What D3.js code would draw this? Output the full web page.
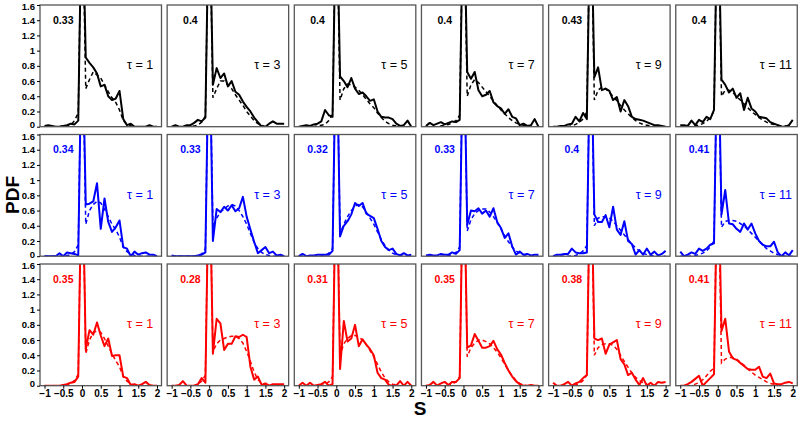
<!DOCTYPE html>
<html><head><meta charset="utf-8">
<script src="https://cdn.jsdelivr.net/npm/d3@7"></script>
<style>body{margin:0;background:#fff}svg{display:block}</style>
</head><body><svg id="c" width="800" height="421"></svg>
<script>
// S grid (bin positions)
const S = [-1.0,-0.9,-0.8,-0.7,-0.6,-0.5,-0.4,-0.3,-0.2,-0.1,0,0.1,0.2,0.3,0.4,0.5,0.6,0.7,0.8,0.9,1.0,1.1,1.2,1.3,1.4,1.5,1.6,1.7,1.8,1.9,2.0];
const taus = [1,3,5,7,9,11];
const rowColors = ["#000000","#0000ff","#ff0000"];
const xTicks = [-1,-0.5,0,0.5,1,1.5,2];
const yTicks = [0,0.2,0.4,0.6,0.8,1,1.2,1.4,1.6];

const fracBlack = ["0.33","0.4","0.4","0.4","0.43","0.4"];
const fracBlue  = ["0.34","0.33","0.32","0.33","0.4","0.41"];
const fracRed   = ["0.35","0.28","0.31","0.35","0.38","0.41"];

const solidBlack = [
 [0.01,0.02,0.01,0,0,0.01,0.02,0.04,0.03,0.08,3.2,0.91,0.84,0.78,0.70,0.53,0.55,0.40,0.35,0.37,0.47,0.10,0.02,0.04,0,0,0,0,0.02,0,0],
 [0,0.02,0,0,0.02,0.02,0.05,0.09,0.07,0.12,3.2,0.55,0.77,0.64,0.7,0.53,0.6,0.46,0.42,0.33,0.26,0.2,0.12,0.06,0,0,0.04,0.07,0.04,0.04,0.04],
 [0,0.01,0.02,0.01,0.03,0.04,0.07,0.22,0.15,0.13,3.2,0.66,0.6,0.52,0.64,0.5,0.43,0.45,0.4,0.34,0.36,0.2,0.13,0.12,0.12,0.1,0.04,0.01,0.02,0.08,0],
 [0.01,0.05,0.02,0.04,0.06,0.03,0.05,0.07,0.06,0.09,3.2,0.72,0.63,0.72,0.48,0.4,0.42,0.47,0.32,0.27,0.24,0.17,0.23,0.13,0.11,0.02,0.04,0.01,0.02,0.1,0],
 [0,0,0.01,0.01,0.03,0.04,0.13,0.07,0.18,0.1,3.2,0.65,0.78,0.48,0.5,0.47,0.35,0.39,0.2,0.35,0.27,0.13,0.1,0.09,0.08,0.06,0.04,0.02,0.02,0.01,0],
 [0.02,0.02,0.01,0.08,0.02,0.09,0.06,0.13,0.1,0.22,3.2,0.62,0.55,0.45,0.5,0.38,0.44,0.22,0.38,0.24,0.2,0.13,0.12,0.11,0.06,0.04,0.02,0,0,0.02,0.09]
];
const dashedBlack = [
 [0,0,0,0,0,0.01,0.01,0.02,0.08,0.18,3.2,0.5,0.62,0.72,0.68,0.64,0.55,0.46,0.38,0.32,0.22,0.08,0.03,0.01,0,0,0,0,0,0,0],
 [0,0,0,0,0,0,0.01,0.02,0.06,0.14,3.2,0.38,0.5,0.6,0.6,0.55,0.5,0.42,0.35,0.28,0.2,0.14,0.08,0.04,0.02,0,0,0,0,0,0],
 [0,0,0,0,0,0.01,0.02,0.03,0.08,0.16,3.2,0.35,0.5,0.56,0.55,0.52,0.48,0.42,0.36,0.3,0.25,0.18,0.12,0.07,0.04,0.02,0.01,0,0,0,0],
 [0,0,0,0,0.01,0.02,0.03,0.05,0.08,0.15,3.2,0.4,0.55,0.62,0.58,0.52,0.46,0.4,0.34,0.28,0.22,0.17,0.12,0.08,0.05,0.03,0.02,0.01,0,0,0],
 [0,0,0,0,0,0.01,0.03,0.06,0.1,0.2,3.2,0.35,0.48,0.52,0.5,0.45,0.4,0.34,0.28,0.22,0.17,0.12,0.08,0.05,0.03,0.02,0.01,0,0,0,0],
 [0,0,0,0,0.01,0.02,0.04,0.07,0.12,0.2,3.2,0.4,0.48,0.48,0.45,0.4,0.35,0.3,0.25,0.2,0.16,0.12,0.09,0.06,0.04,0.03,0.02,0.01,0.01,0,0]
];
const solidBlue = [
 [0,0,0,0,0.04,0,0.05,0.04,0.03,0.01,3.2,0.68,0.69,0.72,0.96,0.36,0.76,0.45,0.32,0.38,0.47,0.12,0.1,0,0.06,0.02,0.04,0.05,0.02,0.02,0],
 [0.01,0,0,0,0,0,0,0.01,0.02,0.05,3.2,0.2,0.62,0.58,0.65,0.6,0.67,0.59,0.63,0.78,0.52,0.35,0.19,0.04,0.08,0.12,0.04,0.06,0.01,0.02,0],
 [0,0.03,0,0.01,0.01,0.02,0.02,0.02,0.02,0.07,3.2,0.26,0.4,0.46,0.55,0.7,0.66,0.7,0.56,0.53,0.5,0.36,0.2,0.12,0.08,0.1,0.03,0.01,0.04,0.01,0.02],
 [0.01,0.02,0.01,0.01,0.03,0.02,0.02,0.05,0.03,0.08,3.2,0.41,0.6,0.59,0.63,0.56,0.6,0.52,0.63,0.45,0.37,0.24,0.3,0.13,0.02,0.06,0.02,0.03,0.01,0.02,0.02],
 [0,0.02,0.02,0.03,0.03,0.1,0.05,0.04,0.04,0.05,3.2,0.55,0.45,0.45,0.54,0.38,0.65,0.35,0.28,0.46,0.2,0.16,0.02,0.08,0.02,0.1,0.02,0.06,0.01,0.03,0.07],
 [0.06,0,0.02,0.05,0.03,0.1,0.07,0.1,0.15,0.17,3.2,0.55,0.87,0.43,0.42,0.36,0.32,0.43,0.35,0.43,0.3,0.2,0.15,0.13,0.13,0.19,0.05,0,0.05,0.01,0.08]
];
const dashedBlue = [
 [0,0,0,0,0,0,0.01,0.02,0.06,0.15,3.2,0.42,0.6,0.68,0.72,0.7,0.62,0.52,0.42,0.35,0.25,0.12,0.06,0.03,0.01,0,0,0,0,0,0],
 [0,0,0,0,0,0,0,0.01,0.03,0.1,3.2,0.38,0.5,0.58,0.62,0.66,0.68,0.66,0.6,0.52,0.42,0.3,0.18,0.1,0.05,0.02,0.01,0,0,0,0],
 [0,0,0,0,0,0,0,0.01,0.04,0.1,3.2,0.3,0.42,0.52,0.6,0.66,0.68,0.65,0.58,0.5,0.42,0.32,0.22,0.14,0.08,0.04,0.02,0.01,0,0,0],
 [0,0,0,0,0,0,0.01,0.02,0.05,0.12,3.2,0.33,0.48,0.56,0.6,0.62,0.62,0.58,0.52,0.44,0.36,0.27,0.19,0.12,0.07,0.04,0.02,0.01,0,0,0],
 [0,0,0,0,0,0,0.01,0.03,0.07,0.14,3.2,0.4,0.5,0.52,0.52,0.5,0.46,0.4,0.34,0.28,0.22,0.16,0.11,0.07,0.04,0.02,0.01,0,0,0,0],
 [0,0,0,0,0.01,0.02,0.04,0.07,0.12,0.2,3.2,0.38,0.46,0.47,0.47,0.46,0.43,0.4,0.35,0.3,0.25,0.2,0.15,0.1,0.07,0.04,0.02,0.01,0,0,0]
];
const solidRed = [
 [0,0,0,0,0,0.01,0.02,0.04,0.05,0.12,3.2,0.48,0.73,0.67,0.83,0.66,0.52,0.62,0.39,0.4,0.4,0.12,0.1,0.01,0.02,0,0.02,0.05,0.01,0,0],
 [0,0,0.01,0.06,0,0,0,0.02,0.1,0.04,3.2,0.42,0.88,0.82,0.47,0.55,0.55,0.65,0.64,0.67,0.64,0.25,0.08,0.12,0.01,0.03,0,0.02,0.02,0.02,0.02],
 [0,0.04,0,0.04,0,0.01,0.02,0.05,0,0.02,3.2,0.22,0.85,0.58,0.62,0.8,0.52,0.61,0.54,0.48,0.4,0.17,0.1,0.08,0.01,0,0,0.06,0,0.05,0],
 [0,0.01,0.05,0,0.03,0.05,0.01,0.05,0.05,0.1,3.2,0.5,0.53,0.68,0.59,0.5,0.5,0.52,0.59,0.48,0.41,0.3,0.2,0.12,0.06,0.02,0,0,0.01,0,0],
 [0.04,0,0,0.02,0.05,0,0.03,0.05,0.1,0.14,3.2,0.62,0.6,0.62,0.42,0.54,0.57,0.6,0.35,0.28,0.14,0.17,0.08,0.01,0.1,0,0.04,0,0.05,0.04,0.05],
 [0,0,0.02,0.05,0.09,0.13,0,0.05,0.1,0.15,3.2,0.72,0.88,0.45,0.36,0.34,0.3,0.26,0.22,0.21,0.21,0.25,0.12,0.1,0.16,0.03,0.02,0.02,0.04,0.05,0.03]
];
const dashedRed = [
 [0,0,0,0,0,0,0.01,0.03,0.07,0.15,3.2,0.42,0.6,0.7,0.72,0.7,0.62,0.52,0.42,0.33,0.25,0.12,0.06,0.02,0.01,0,0,0,0,0,0],
 [0,0,0,0,0,0,0,0.02,0.06,0.14,3.2,0.45,0.55,0.6,0.62,0.64,0.65,0.65,0.62,0.56,0.45,0.32,0.18,0.08,0.03,0.01,0,0,0,0,0],
 [0,0,0,0,0,0,0,0.02,0.05,0.12,3.2,0.4,0.55,0.62,0.66,0.66,0.64,0.6,0.54,0.46,0.38,0.28,0.18,0.1,0.05,0.02,0.01,0,0,0,0],
 [0,0,0,0,0,0,0.01,0.02,0.05,0.12,3.2,0.38,0.5,0.56,0.6,0.6,0.58,0.55,0.5,0.44,0.37,0.28,0.2,0.13,0.07,0.03,0.01,0,0,0,0],
 [0,0,0,0,0,0,0.01,0.03,0.07,0.14,3.2,0.4,0.5,0.54,0.55,0.55,0.53,0.48,0.4,0.32,0.24,0.17,0.11,0.07,0.04,0.02,0.01,0,0,0,0],
 [0,0,0,0,0.02,0.04,0.08,0.13,0.19,0.23,3.2,0.3,0.35,0.37,0.37,0.35,0.31,0.27,0.22,0.18,0.14,0.11,0.08,0.05,0.03,0.02,0.01,0,0,0,0]
];

const rows = [
  {color: rowColors[0], solid: solidBlack, dashed: dashedBlack, frac: fracBlack},
  {color: rowColors[1], solid: solidBlue,  dashed: dashedBlue,  frac: fracBlue},
  {color: rowColors[2], solid: solidRed,   dashed: dashedRed,   frac: fracRed}
];

const W = 121.5, H = 121.7;
const x0 = 40, pitchX = 127.15, y0 = 5, pitchY = 129.5;
const tickFont = "'Liberation Sans Narrow','Liberation Sans',Arial,sans-serif";

const x = d3.scaleLinear().domain([-1.12, 2.12]).range([0, W]);
const y = d3.scaleLinear().domain([0, 1.6]).range([H, 0]);
const line = d3.line().x((d,i) => x(S[i])).y(d => y(d));

const svg = d3.select("#c");
const defs = svg.append("defs");
defs.append("clipPath").attr("id","clip").append("rect")
  .attr("x",0).attr("y",0).attr("width",W).attr("height",H);

rows.forEach((row, r) => {
  taus.forEach((tau, c) => {
    const g = svg.append("g").attr("transform", `translate(${x0 + c*pitchX},${y0 + r*pitchY})`);
    const plot = g.append("g").attr("clip-path","url(#clip)");
    plot.append("path").datum(row.dashed[c]).attr("d", line)
      .attr("fill","none").attr("stroke", row.color).attr("stroke-width",1.5)
      .attr("stroke-dasharray","4,3");
    plot.append("path").datum(row.solid[c]).attr("d", line)
      .attr("fill","none").attr("stroke", row.color).attr("stroke-width",2)
      .attr("stroke-linejoin","round");
    g.append("rect").attr("x",0).attr("y",0).attr("width",W).attr("height",H)
      .attr("fill","none").attr("stroke","#555").attr("stroke-width",1.3);
    g.append("text").attr("x", x(-0.5)).attr("y", y(1.4)).attr("dy","0.35em")
      .attr("text-anchor","middle").attr("font-family",tickFont).attr("font-weight","bold")
      .attr("font-size",10.5).attr("fill",row.color).text(row.frac[c]);
    g.append("text").attr("x", x(1.55)).attr("y", y(0.81)).attr("dy","0.35em")
      .attr("text-anchor","middle").attr("font-family","'Liberation Sans',Arial,sans-serif")
      .attr("font-size",12.5).attr("fill",row.color).text("τ = " + tau);

    if (c === 0) {
      const ya = g.append("g").call(d3.axisLeft(y).tickValues(yTicks).tickSize(3).tickPadding(2)
        .tickFormat(d3.format("~g")));
      ya.select(".domain").remove();
      ya.selectAll("line").attr("stroke","#000");
      ya.selectAll("text").attr("font-family",tickFont).attr("font-weight","bold")
        .attr("font-size",9.5).attr("fill","#000")
        .attr("dy", d => d === 0 ? "0.1em" : (d === 1.6 ? "0.5em" : "0.32em"));
    }
    if (r === 2) {
      const xa = g.append("g").attr("transform",`translate(0,${H})`)
        .call(d3.axisBottom(x).tickValues(xTicks).tickSize(3).tickPadding(1.5)
        .tickFormat(d => d3.format("~g")(d).replace("-","−")));
      xa.select(".domain").remove();
      xa.selectAll("line").attr("stroke","#000");
      xa.selectAll("text").attr("font-family",tickFont).attr("font-weight","bold")
        .attr("font-size",10).attr("fill","#000");
    }
  });
});

svg.append("text").attr("transform","translate(19,195) rotate(-90)")
  .attr("text-anchor","middle").attr("font-family",tickFont).attr("font-weight","bold")
  .attr("font-size",19).text("PDF");
svg.append("text").attr("x",420).attr("y",415)
  .attr("text-anchor","middle").attr("font-family",tickFont).attr("font-weight","bold")
  .attr("font-size",19).text("S");
</script>
</body></html>
